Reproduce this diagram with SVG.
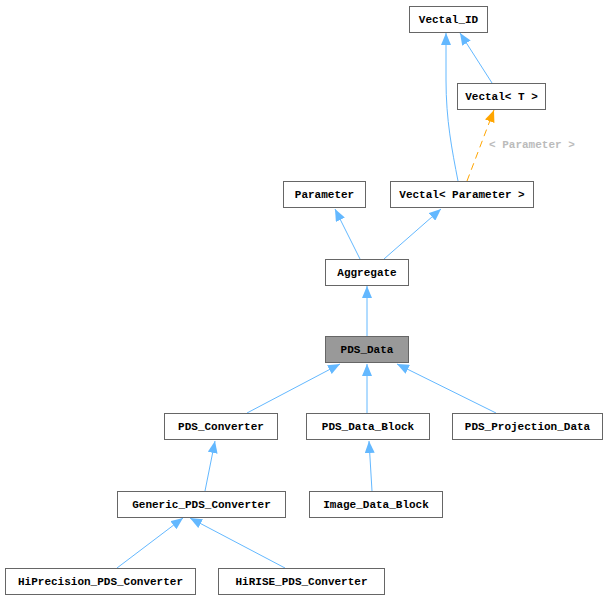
<svg xmlns="http://www.w3.org/2000/svg" width="607" height="600" viewBox="0 0 607 600">
<style>
.n rect{fill:#fff;stroke:#666;stroke-width:1}
.n text{font-family:"Liberation Mono","DejaVu Sans Mono",monospace;font-size:11px;font-weight:bold;fill:#000;text-anchor:middle}
.e path{fill:none;stroke:#63b8ff;stroke-width:1}
.e path.t{stroke:#ffa500;stroke-dasharray:7,5}
.lbl{font-family:"Liberation Mono","DejaVu Sans Mono",monospace;font-size:11px;font-weight:bold;fill:#bbb}
</style>
<defs>
<marker id="a" viewBox="0 0 12 10" refX="12" refY="5" markerWidth="12" markerHeight="10" markerUnits="userSpaceOnUse" orient="auto"><path d="M0,0L12,5L0,10z" fill="#63b8ff"/></marker>
<marker id="o" viewBox="0 0 12 10" refX="12" refY="5" markerWidth="12" markerHeight="10" markerUnits="userSpaceOnUse" orient="auto"><path d="M0,0L12,5L0,10z" fill="#ffa500"/></marker>
</defs>
<rect width="607" height="600" fill="#fff"/>
<g class="e" id="edges">
<path d="M458,181 C452,150 446,120 446,80 L446,33" marker-end="url(#a)"/>
<path d="M492,83 L460,33" marker-end="url(#a)"/>
<path class="t" d="M467,181 L494,110" marker-end="url(#o)"/>
<path d="M360,259 L335,209" marker-end="url(#a)"/>
<path d="M384,259 L441,209" marker-end="url(#a)"/>
<path d="M367,336 L367,286" marker-end="url(#a)"/>
<path d="M247,413 L340,364" marker-end="url(#a)"/>
<path d="M367,413 L367,364" marker-end="url(#a)"/>
<path d="M496,413 L397,364" marker-end="url(#a)"/>
<path d="M205,491 L215,441" marker-end="url(#a)"/>
<path d="M372,491 L369,441" marker-end="url(#a)"/>
<path d="M117,568 L183,518" marker-end="url(#a)"/>
<path d="M285,568 L190,518" marker-end="url(#a)"/>
</g>
<text class="lbl" x="489" y="148">&lt; Parameter &gt;</text>
<g class="n" id="Vectal_ID"><rect x="409.5" y="6.5" width="78" height="26"/><text x="448.5" y="23">Vectal_ID</text></g>
<g class="n" id="VectalT"><rect x="457.5" y="83.5" width="88" height="26"/><text x="501.5" y="100">Vectal&lt; T &gt;</text></g>
<g class="n" id="Parameter"><rect x="283.5" y="181.5" width="82" height="26"/><text x="324.5" y="198">Parameter</text></g>
<g class="n" id="VectalParameter"><rect x="390.5" y="181.5" width="143" height="26"/><text x="462" y="198">Vectal&lt; Parameter &gt;</text></g>
<g class="n" id="Aggregate"><rect x="325.5" y="259.5" width="83" height="26"/><text x="367" y="276">Aggregate</text></g>
<g class="n" id="PDS_Data"><rect x="325.5" y="336.5" width="83" height="26" style="fill:#999"/><text x="367" y="353">PDS_Data</text></g>
<g class="n" id="PDS_Converter"><rect x="164.5" y="413.5" width="113" height="26"/><text x="221" y="430">PDS_Converter</text></g>
<g class="n" id="PDS_Data_Block"><rect x="306.5" y="413.5" width="123" height="26"/><text x="368" y="430">PDS_Data_Block</text></g>
<g class="n" id="PDS_Projection_Data"><rect x="452.5" y="413.5" width="150" height="26"/><text x="527.5" y="430">PDS_Projection_Data</text></g>
<g class="n" id="Generic_PDS_Converter"><rect x="117.5" y="491.5" width="168" height="26"/><text x="201.5" y="508">Generic_PDS_Converter</text></g>
<g class="n" id="Image_Data_Block"><rect x="309.5" y="491.5" width="133" height="26"/><text x="376" y="508">Image_Data_Block</text></g>
<g class="n" id="HiPrecision_PDS_Converter"><rect x="5.5" y="568.5" width="190" height="26"/><text x="100.5" y="585">HiPrecision_PDS_Converter</text></g>
<g class="n" id="HiRISE_PDS_Converter"><rect x="218.5" y="568.5" width="166" height="26"/><text x="301.5" y="585">HiRISE_PDS_Converter</text></g>
</svg>
